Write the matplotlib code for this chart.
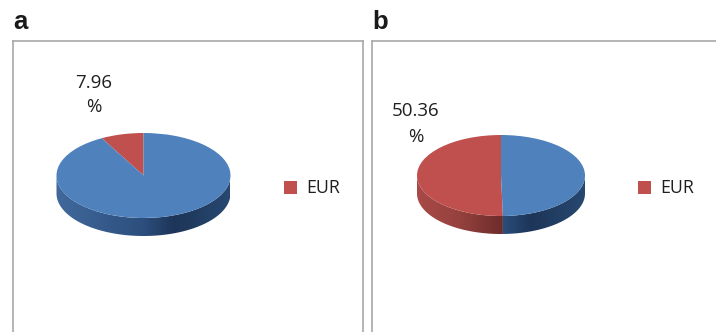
from matplotlib import pyplot as plt
from matplotlib.colors import LinearSegmentedColormap
from matplotlib.patches import Polygon
import numpy as np

W = 716
H = 332

# share of EUR in each panel, the rest is the unnamed series
eur_shares = [7.96, 50.36]
share_labels = ['7.96\n%', '50.36\n%']
panel_letters = ['a', 'b']
legend_label = 'EUR'

BLUE = '#4f81bd'
RED = '#c0504d'

# shading along the side wall of the discs, left to right
blue_side = LinearSegmentedColormap.from_list(
    'blue_side', [(0, '#41699c'), (0.5, '#2c4f7d'), (0.68, '#1d3558'), (1, '#284870')])
red_side = LinearSegmentedColormap.from_list(
    'red_side', [(0, '#a84a47'), (0.25, '#96413e'), (0.5, '#6e2d2b'), (1, '#6e2d2b')])


def px_axes(left, top, right, bottom):
    return fig.add_axes([left / W, 1 - bottom / H, (right - left) / W, (bottom - top) / H])


def draw_side(ax, start, end, depth, cmap):
    # only the front half of the disc shows a wall
    lo = max(start, 180)
    hi = min(end, 360)
    if lo >= hi:
        return
    t = np.radians(np.linspace(lo, hi, 120))
    x = np.cos(t)
    y = np.sin(t)
    outline = np.column_stack([np.r_[x, x[::-1]], np.r_[y, y[::-1] - depth]])
    wall = Polygon(outline, closed=True, facecolor='none', edgecolor='none', transform=ax.transData)
    ax.add_patch(wall)
    im = ax.imshow(np.linspace(0, 1, 256).reshape(1, -1), cmap=cmap, aspect='auto',
                   extent=[-1, 1, -1 - depth, 1], zorder=0, vmin=0, vmax=1)
    im.set_clip_path(wall)


def draw_disc(share, cx, cy, rx, ry, wall):
    ax = px_axes(cx - rx, cy - ry, cx + rx, cy + ry + wall)
    depth = 2 * wall / (2 * ry)
    wedges, _ = ax.pie([share, 100 - share], colors=[RED, BLUE], startangle=90, radius=1,
                       wedgeprops={'linewidth': 0})
    for w in wedges:
        w.set_zorder(2)
    split = 90 + share * 3.6
    draw_side(ax, 90, split, depth, red_side)
    draw_side(ax, split, 450, depth, blue_side)
    ax.set_aspect('auto')
    ax.set_xlim(-1, 1)
    ax.set_ylim(-1 - depth, 1)
    ax.axis('off')
    return wedges


def draw_panel(left, right, letter, share, label, label_x, label_y, disc, legend_x):
    frame = px_axes(left, 41, right, 345)
    frame.set_xticks([])
    frame.set_yticks([])
    for s in frame.spines.values():
        s.set_color('#a8a8a8')
        s.set_linewidth(1.2)
    fig.text(left / W, 1 - 29 / H, letter, fontsize=18.5, fontweight='bold',
             family='Liberation Sans', color='#1a1a1a', va='baseline')
    fig.text(label_x / W, 1 - label_y / H, label, fontsize=13.5, family='Open Sans',
             color='#1f1f1f', ha='center', va='center', linespacing=1.5, multialignment='center')
    wedges = draw_disc(share, *disc)
    fig.legend([wedges[0]], [legend_label], loc='center left',
               bbox_to_anchor=(legend_x / W, 1 - 188.5 / H), frameon=False,
               prop={'family': 'Open Sans', 'size': 12.8}, labelcolor='#1f1f1f',
               handlelength=0.73, handleheight=0.73, handletextpad=0.5,
               borderpad=0, borderaxespad=0)


fig = plt.figure(figsize=(W / 100, H / 100), dpi=100)

draw_panel(13, 363, panel_letters[0], eur_shares[0], share_labels[0], 93.5, 95,
           (143.5, 175.5, 87, 42.5, 18), 284)
draw_panel(372, 740, panel_letters[1], eur_shares[1], share_labels[1], 416, 124,
           (501, 175.5, 84, 40.5, 18), 638)

fig.savefig('out.png', dpi=100)
